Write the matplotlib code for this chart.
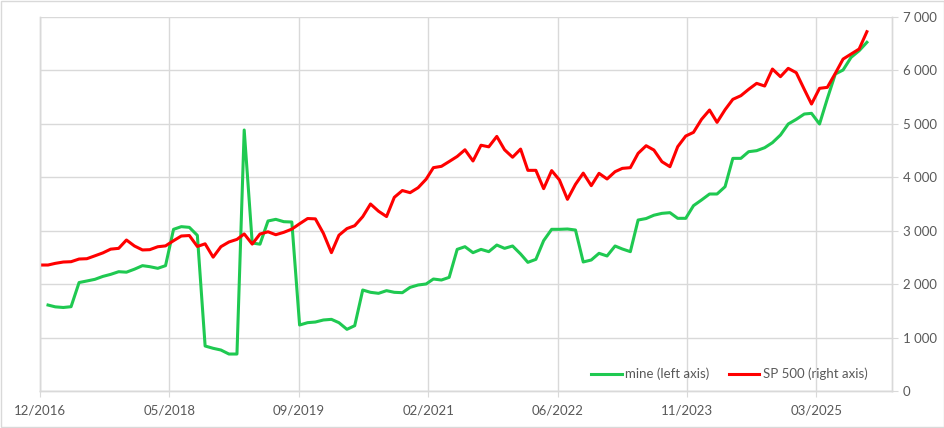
import pandas as pd
import matplotlib
matplotlib.use('Agg')
import matplotlib.pyplot as plt
import matplotlib.dates as mdates
from matplotlib.ticker import MultipleLocator, FuncFormatter
from matplotlib.patches import Rectangle

plt.rcParams['font.family'] = ['Lato', 'DejaVu Sans']

# Monthly points
dates = pd.date_range('2016-12-31', periods=106, freq='ME')

sp500 = [
    2358, 2358, 2389, 2414, 2420, 2470, 2476, 2530, 2585, 2655,
    2670, 2826, 2714, 2640, 2645, 2700, 2716, 2813, 2901, 2910,
    2705, 2755, 2505, 2701, 2789, 2838, 2940, 2750, 2938, 2980,
    2925, 2970, 3030, 3130, 3228, 3222, 2951, 2589, 2915, 3040,
    3094, 3263, 3500, 3365, 3265, 3625, 3752, 3712, 3805, 3965,
    4180, 4205, 4295, 4390, 4515, 4305, 4600, 4570, 4765, 4515,
    4375, 4528, 4130, 4130, 3787, 4125, 3950, 3587, 3868, 4078,
    3843, 4074, 3968, 4105, 4167, 4180, 4448, 4591, 4510, 4292,
    4198, 4573, 4772, 4841, 5084, 5259, 5028, 5265, 5459, 5527,
    5646, 5758, 5708, 6026, 5883, 6039, 5958, 5646, 5371, 5665,
    5683, 5945, 6213, 6307, 6401, 6725,
]

# "mine" starts one month later
mine = [
    1609, 1575, 1563, 1578, 2030, 2059, 2090, 2145, 2183,
    2233, 2224, 2280, 2346, 2327, 2296, 2346, 3026, 3076, 3063,
    2913, 842, 799, 767, 692, 692, 4885, 2770, 2748, 3182,
    3213, 3169, 3163, 1235, 1279, 1291, 1329, 1341, 1279, 1154,
    1223, 1890, 1847, 1828, 1878, 1847, 1840, 1940, 1984, 2003,
    2096, 2077, 2127, 2651, 2701, 2589, 2651, 2608, 2732, 2670,
    2714, 2564, 2408, 2464, 2814, 3026, 3026, 3032, 3013, 2415,
    2452, 2577, 2527, 2714, 2658, 2608, 3200, 3228, 3290, 3325,
    3338, 3232, 3232, 3469, 3575, 3687, 3687, 3824, 4354, 4354,
    4479, 4498, 4554, 4648, 4791, 4997, 5084, 5184, 5197, 4997,
    5470, 5933, 6008, 6245, 6369, 6526,
]
mine_dates = dates[1:]

GREEN = '#1fc951'
RED = '#ff0000'
GRID = '#d9d9d9'
TEXT = '#595959'
FS = 9.5

fig = plt.figure(figsize=(9.45, 4.28), dpi=100)
ax = fig.add_axes([40 / 945, 1 - 391 / 428, 852 / 945, 374 / 428])
ax2 = ax.twinx()

l1, = ax.plot(mine_dates, mine, color=GREEN, lw=2.2, label='mine (left axis)')
l2, = ax2.plot(dates, sp500, color=RED, lw=2.2, label='SP 500 (right axis)')

x0 = mdates.date2num(pd.Timestamp('2016-12-31'))
ax.set_xlim(x0, x0 + 3292)
for a in (ax, ax2):
    a.set_ylim(0, 7000)
    a.yaxis.set_major_locator(MultipleLocator(1000))

# x ticks every 500 days from the axis start
ax.xaxis.set_major_locator(MultipleLocator(500, offset=x0 % 500))
ax.xaxis.set_major_formatter(mdates.DateFormatter('%m/%Y'))

ax.grid(True, color=GRID, lw=1)
ax.set_axisbelow(True)
ax.tick_params(axis='y', left=False, labelleft=False)
ax.tick_params(axis='x', colors=GRID, labelcolor=TEXT, labelsize=FS, length=4, pad=6)
ax2.tick_params(axis='y', colors=GRID, labelcolor=TEXT, labelsize=FS, length=4, pad=4)
ax2.yaxis.set_major_formatter(FuncFormatter(lambda v, p: f'{v:,.0f}'.replace(',', ' ')))

for a in (ax, ax2):
    a.spines['top'].set_visible(False)
    for s in ('left', 'right', 'bottom'):
        a.spines[s].set_color(GRID)
        a.spines[s].set_linewidth(1)

leg = ax2.legend(handles=[l1, l2], loc='center right', bbox_to_anchor=(0.985, 0.045),
                 ncol=2, frameon=False, fontsize=FS, handlelength=2.3,
                 handletextpad=0.25, columnspacing=1.5, labelcolor=TEXT)

fig.patches.append(Rectangle((0.001, 0.002), 0.998, 0.996, transform=fig.transFigure,
                             fill=False, edgecolor=GRID, lw=1))

plt.savefig('out.png', dpi=100)
